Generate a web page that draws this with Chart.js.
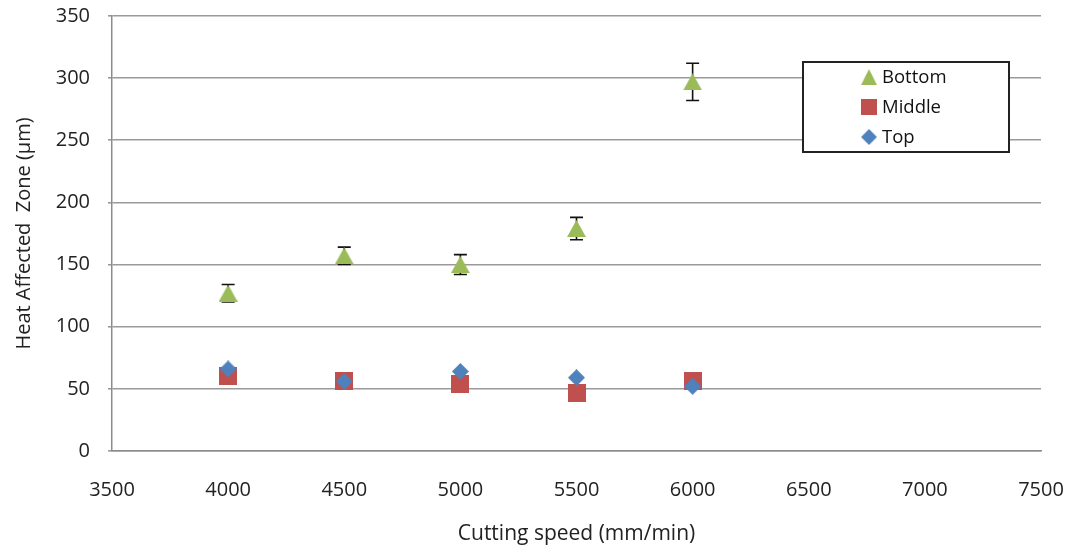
<!DOCTYPE html>
<html lang="en">
<head>
    <meta charset="UTF-8">
    <title>Heat Affected Zone vs Cutting Speed</title>
    <script src="https://cdn.jsdelivr.net/npm/chart.js"></script>
    <style>
        html, body { margin: 0; padding: 0; background: #fff; }
        #wrap { width: 1071px; height: 552px; }
    </style>
</head>
<body>
    <div id="wrap"><canvas id="haz-chart"></canvas></div>

    <script>
        // values
        const speeds = [4000, 4500, 5000, 5500, 6000];
        const bottomHAZ = [127, 157, 150, 179, 297];
        const bottomErr = [7, 7, 8, 9, 15];
        const middleHAZ = [60, 56, 54, 47, 56];
        const topHAZ = [66, 56, 64, 59, 52];
        const seriesNames = ['Bottom', 'Middle', 'Top'];

        const tickFont = { family: 'Open Sans', size: 20 };

        // marker images (centered on the data point by Chart.js)
        function makeMarker(shape, color, w, h) {
            const c = document.createElement('canvas');
            c.width = w; c.height = h;
            const g = c.getContext('2d');
            g.fillStyle = color;
            g.beginPath();
            if (shape === 'triangle') {
                g.moveTo(w / 2, 0);
                g.lineTo(w, h);
                g.lineTo(0, h);
            } else if (shape === 'diamond') {
                g.moveTo(w / 2, 0);
                g.lineTo(w, h / 2);
                g.lineTo(w / 2, h);
                g.lineTo(0, h / 2);
            } else {
                g.rect(0, 0, w, h);
            }
            g.closePath();
            g.fill();
            return c;
        }

        const triMarker = makeMarker('triangle', '#9BBB59', 19, 17);
        const sqMarker = makeMarker('square', '#C0504D', 18, 18);
        const diaMarker = makeMarker('diamond', '#4F81BD', 17, 17);

        function toPoints(ys) {
            return speeds.map((x, i) => ({ x: x, y: ys[i] }));
        }

        // error bars for the Bottom series, drawn under the markers
        const errorBars = {
            id: 'errorBars',
            beforeDatasetsDraw(chart) {
                const ctx = chart.ctx;
                const xs = chart.scales.x, ys = chart.scales.y;
                ctx.save();
                ctx.strokeStyle = '#111';
                ctx.lineWidth = 1.6;
                speeds.forEach((s, i) => {
                    const px = xs.getPixelForValue(s);
                    const hi = ys.getPixelForValue(bottomHAZ[i] + bottomErr[i]);
                    const lo = ys.getPixelForValue(bottomHAZ[i] - bottomErr[i]);
                    ctx.beginPath();
                    ctx.moveTo(px, hi); ctx.lineTo(px, lo);
                    ctx.moveTo(px - 6.5, hi); ctx.lineTo(px + 6.5, hi);
                    ctx.moveTo(px - 6.5, lo); ctx.lineTo(px + 6.5, lo);
                    ctx.stroke();
                });
                ctx.restore();
            }
        };

        // boxed legend inside the plot, like the original
        const boxLegend = {
            id: 'boxLegend',
            afterDraw(chart) {
                const ctx = chart.ctx;
                const bx = 803, by = 62, bw = 206, bh = 90;
                ctx.save();
                ctx.fillStyle = '#fff';
                ctx.fillRect(bx, by, bw, bh);
                ctx.strokeStyle = '#222';
                ctx.lineWidth = 2;
                ctx.strokeRect(bx, by, bw, bh);
                ctx.font = '18.5px "Open Sans"';
                ctx.fillStyle = '#111';
                ctx.textBaseline = 'middle';
                chart.data.datasets.forEach((ds, i) => {
                    const cy = 77 + i * 30;
                    ctx.drawImage(ds.pointStyle, 861, cy - 8, 16, 16);
                    ctx.fillText(ds.label, 882, cy + 1);
                });
                ctx.restore();
            }
        };

        new Chart(document.getElementById('haz-chart'), {
            type: 'scatter',
            data: {
                datasets: [
                    { label: seriesNames[0], data: toPoints(bottomHAZ), pointStyle: triMarker, order: 3 },
                    { label: seriesNames[1], data: toPoints(middleHAZ), pointStyle: sqMarker, order: 2 },
                    { label: seriesNames[2], data: toPoints(topHAZ), pointStyle: diaMarker, order: 1 }
                ]
            },
            options: {
                responsive: true,
                maintainAspectRatio: false,
                animation: false,
                layout: { padding: { top: 16, right: 30, bottom: 0, left: 0 } },
                plugins: {
                    legend: { display: false },
                    tooltip: { enabled: false }
                },
                scales: {
                    x: {
                        type: 'linear',
                        min: 3500,
                        max: 7500,
                        grid: { display: false },
                        border: { display: true, color: '#8c8c8c', width: 1.5 },
                        ticks: {
                            stepSize: 500,
                            padding: 19,
                            color: '#222',
                            font: tickFont,
                            maxRotation: 0,
                            callback: v => String(v)
                        },
                        title: {
                            display: true,
                            text: 'Cutting speed (mm/min)',
                            color: '#222',
                            font: { family: 'Open Sans', size: 21 },
                            padding: { top: 0, bottom: 5 }
                        },
                        afterFit(scale) {
                            scale.height = 101;
                            scale.paddingLeft = 0;
                            scale.paddingRight = 0;
                        }
                    },
                    y: {
                        min: 0,
                        max: 350,
                        grid: { color: '#9a9a9a', lineWidth: 1.6, tickLength: 4 },
                        border: { display: true, color: '#8c8c8c', width: 1.5 },
                        ticks: {
                            stepSize: 50,
                            padding: 18,
                            color: '#222',
                            font: tickFont,
                            callback: v => String(v)
                        },
                        title: {
                            display: true,
                            text: 'Heat Affected  Zone (\u00b5m)',
                            color: '#222',
                            font: { family: 'Open Sans', size: 20 },
                            padding: { top: 12, bottom: 0 }
                        },
                        afterFit(scale) {
                            scale.width = 112;
                            scale.paddingTop = 0;
                            scale.paddingBottom = 0;
                        }
                    }
                }
            },
            plugins: [errorBars, boxLegend]
        });
    </script>
</body>
</html>
